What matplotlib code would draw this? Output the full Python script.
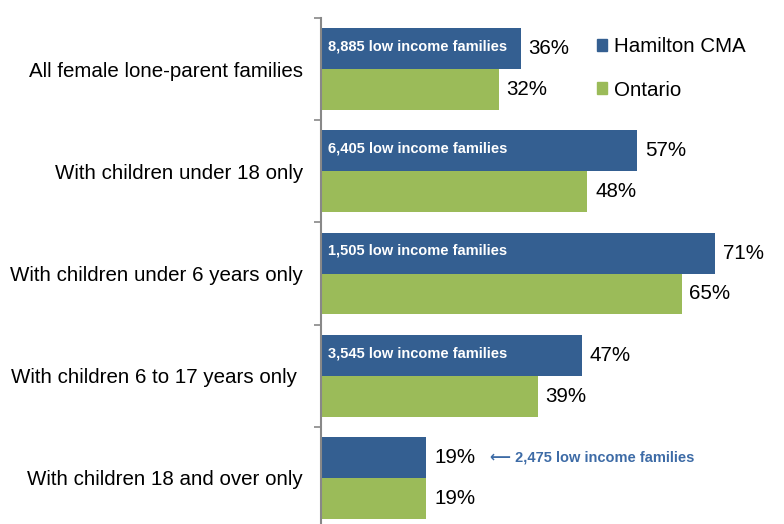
import matplotlib
matplotlib.use("Agg")
import matplotlib.pyplot as plt
from matplotlib.patches import Patch

plt.rcParams['font.family'] = ['Liberation Sans', 'DejaVu Sans']

# Data
categories = ['All female lone-parent families',
              'With children under 18 only',
              'With children under 6 years only',
              'With children 6 to 17 years only ',
              'With children 18 and over only']
hamilton = [36, 57, 71, 47, 19]
ontario = [32, 48, 65, 39, 19]
families = ['8,885', '6,405', '1,505', '3,545', '2,475']

blue = '#345F91'
green = '#9BBB59'
label_blue = '#3D6BA6'

fig = plt.figure(figsize=(7.84, 5.24), dpi=100)
ax = fig.add_axes([321 / 784, (524 - 529) / 524, 1 - 321 / 784, 511 / 524])

ypos = list(range(len(categories)))
h = 0.40
ax.barh([y - h / 2 for y in ypos], hamilton, height=h, color=blue, label='Hamilton CMA')
ax.barh([y + h / 2 for y in ypos], ontario, height=h, color=green, label='Ontario')

ax.set_xlim(0, 83.4)
ax.set_ylim(len(categories) - 0.5, -0.5)

# value labels
for i, (hv, ov) in enumerate(zip(hamilton, ontario)):
    ax.annotate(f'{hv}%', (hv, i - h / 2), xytext=(5.5, 0), textcoords='offset points',
                va='center', ha='left', fontsize=14.8)
    ax.annotate(f'{ov}%', (ov, i + h / 2), xytext=(5.5, 0), textcoords='offset points',
                va='center', ha='left', fontsize=14.8)

# count labels
for i, n in enumerate(families):
    if i < len(families) - 1:
        ax.annotate(f'{n} low income families', (0, i - h / 2), xytext=(5, 1.5),
                    textcoords='offset points', va='center', ha='left',
                    fontsize=10.5, fontweight='bold', color='white')
    else:
        ax.annotate(f'\u27f5 {n} low income families', (hamilton[i], i - h / 2),
                    xytext=(46, 0), textcoords='offset points', va='center', ha='left',
                    fontsize=10.5, fontweight='bold', color=label_blue)

# axis styling
for s in ['top', 'right', 'bottom']:
    ax.spines[s].set_visible(False)
ax.spines['left'].set_color('#888888')
ax.spines['left'].set_linewidth(1.5)
ax.set_xticks([])
ax.set_yticks([y - 0.5 for y in range(len(categories) + 1)])
ax.set_yticklabels([])
ax.tick_params(axis='y', which='major', length=5, width=1.2, color='#888888', direction='out')
ax.set_yticks(ypos, minor=True)
ax.set_yticklabels(categories, minor=True, fontsize=14.8)
ax.tick_params(axis='y', which='minor', length=0, pad=13)

handles = [Patch(color=blue, label='Hamilton CMA'), Patch(color=green, label='Ontario')]
ax.legend(handles=handles, loc='upper left', bbox_to_anchor=(0.578, 0.979), frameon=False,
          fontsize=14.8, handlelength=0.5, handleheight=0.5, handletextpad=0.35,
          labelspacing=1.2, borderaxespad=0)

fig.savefig('out.png', dpi=100)
